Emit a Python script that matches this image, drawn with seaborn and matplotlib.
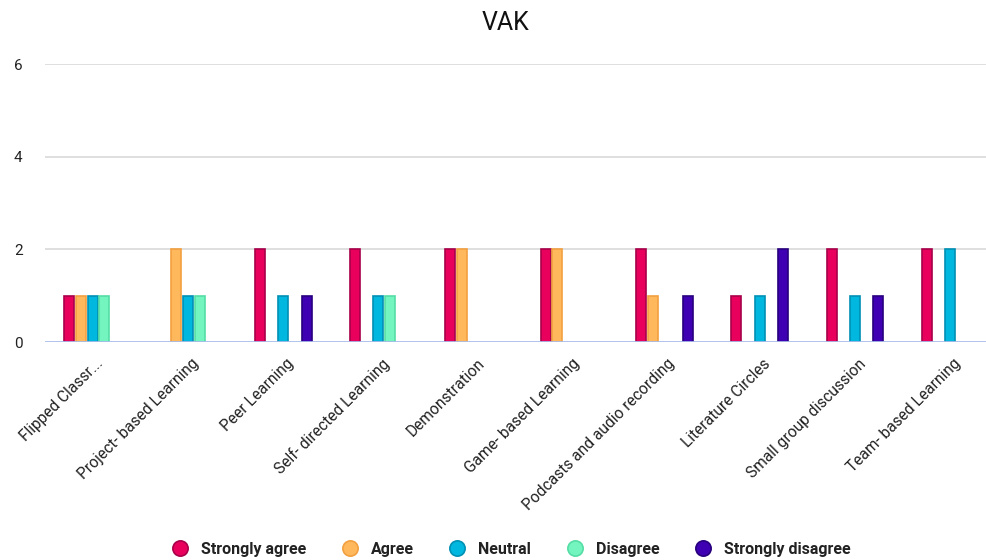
import matplotlib
matplotlib.use("Agg")
import matplotlib.pyplot as plt
import matplotlib.transforms as mtransforms
from matplotlib.lines import Line2D
import seaborn as sns
import pandas as pd

categories = ["Flipped Classr...", "Project- based Learning", "Peer Learning",
              "Self- directed Learning", "Demonstration", "Game- based Learning",
              "Podcasts and audio recording", "Literature Circles",
              "Small group discussion", "Team- based Learning"]
responses = ["Strongly agree", "Agree", "Neutral", "Disagree", "Strongly disagree"]
strongly_agree    = [1, 0, 2, 2, 2, 2, 2, 1, 2, 2]
agree             = [1, 2, 0, 0, 2, 2, 1, 0, 0, 0]
neutral           = [1, 1, 1, 1, 0, 0, 0, 1, 1, 2]
disagree          = [1, 1, 0, 1, 0, 0, 0, 0, 0, 0]
strongly_disagree = [0, 0, 1, 0, 0, 0, 1, 2, 1, 0]
y_ticks = [0, 2, 4, 6]

colors = ["#E8005C", "#FFB95C", "#00B7DF", "#74F5BF", "#3E00B2"]
edges = ["#A8004A", "#F2A040", "#0090B4", "#55DDA5", "#28007E"]

series = [strongly_agree, agree, neutral, disagree, strongly_disagree]
rows = []
for r, vals in zip(responses, series):
    for c, v in zip(categories, vals):
        rows.append({"category": c, "response": r, "value": v})
df = pd.DataFrame(rows)

sns.set_theme(style="white")
plt.rcParams["font.family"] = ["Roboto", "DejaVu Sans"]

fig = plt.figure(figsize=(9.87, 5.6), dpi=100)
ax = fig.add_axes([44.9 / 987, 1 - 342 / 560, 953 / 987, (342 - 64) / 560])

sns.barplot(data=df, x="category", y="value", hue="response", order=categories,
            hue_order=responses, palette=colors, width=0.615, legend=False,
            saturation=1, ax=ax, errorbar=None)

new_w = 0.105
for cont, ec in zip(ax.containers, edges):
    for p in cont.patches:
        w = p.get_width()
        p.set_x(p.get_x() + (w - new_w) / 2)
        p.set_width(new_w)
        if p.get_height() > 0:
            p.set_edgecolor(ec)
            p.set_linewidth(1.2)
        else:
            p.set_linewidth(0)

ax.set_ylim(0, 6)
ax.set_xlim(-0.5, len(categories) - 0.5)
ax.set_yticks(y_ticks)
ax.set_yticklabels([str(t) for t in y_ticks])
for t in y_ticks[1:]:
    ax.axhline(t, color="#D9D9D9", lw=1.2, zorder=0)
ax.axhline(0, color="#A9BDEB", lw=2, zorder=3)
for s in ax.spines.values():
    s.set_visible(False)
ax.set_xlabel("")
ax.set_ylabel("")
ax.tick_params(axis="y", length=0, pad=16, labelsize=11, labelcolor="#222222")
ax.tick_params(axis="x", length=0, pad=10, labelsize=11.2, labelcolor="#222222")
offset = mtransforms.ScaledTranslation(3 / 100, 0, fig.dpi_scale_trans)
for lab in ax.get_xticklabels():
    lab.set_rotation(45)
    lab.set_ha("right")
    lab.set_va("top")
    lab.set_rotation_mode("anchor")
    lab.set_transform(lab.get_transform() + offset)

fig.text(506 / 987, 1 - 23 / 560, "VAK", ha="center", va="center", fontsize=18, color="#111111")

handles = [Line2D([0], [0], marker="o", linestyle="", markersize=11,
                  markerfacecolor=c, markeredgecolor=e, markeredgewidth=1.2)
           for c, e in zip(colors, edges)]
leg = fig.legend(handles, responses, loc="center", bbox_to_anchor=(0.514, 1 - 549.5 / 560),
                 ncol=5, frameon=False, handletextpad=0.3, columnspacing=1.75,
                 prop={"size": 11.5, "weight": "bold"})
for t in leg.get_texts():
    t.set_color("#222222")

fig.savefig("out.png", dpi=100)
